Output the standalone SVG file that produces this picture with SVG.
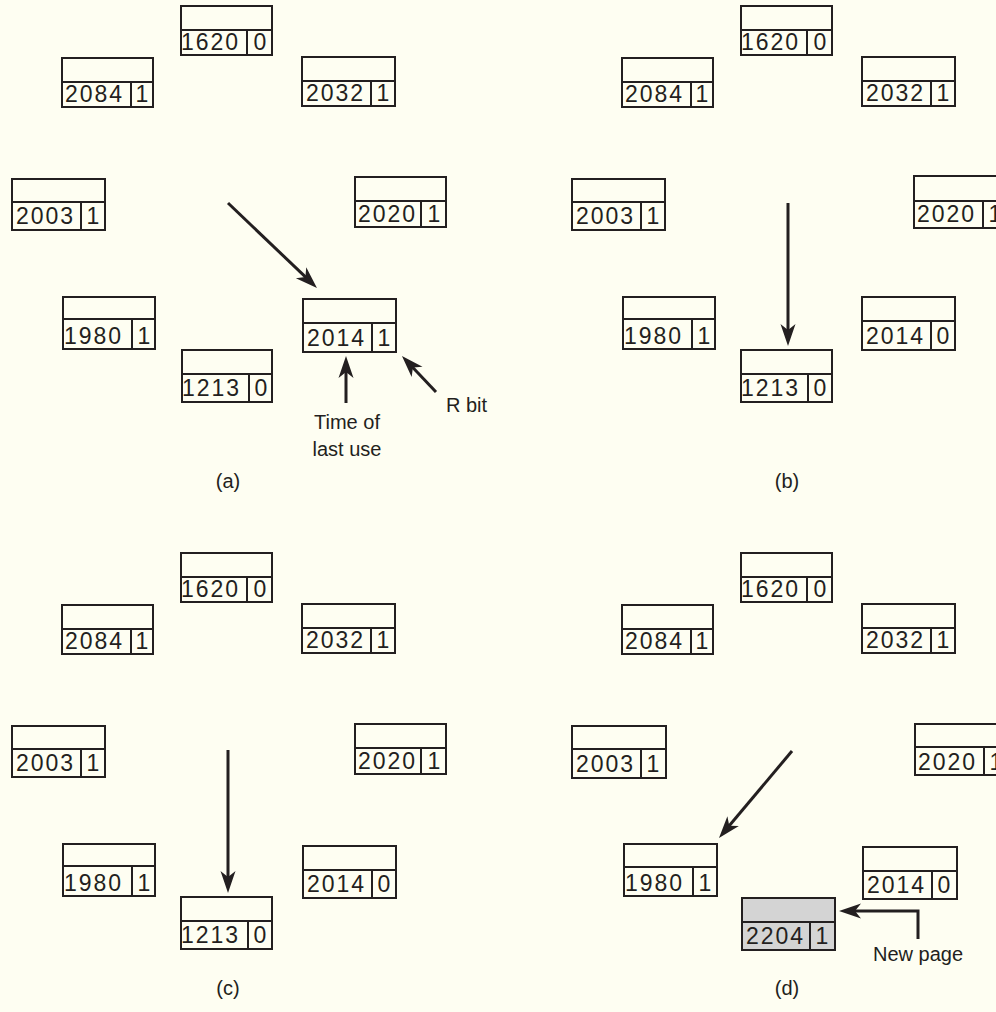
<svg xmlns="http://www.w3.org/2000/svg" width="996" height="1012" viewBox="0 0 996 1012">
<style>
.bg{fill:#fefef2}
.box{fill:#fefef2;stroke:#231f20;stroke-width:2}
.gray{fill:#d4d4d4}
.sep{stroke:#231f20;stroke-width:2}
.num{font-family:"Liberation Sans",Arial,sans-serif;font-size:23px;fill:#231f20;letter-spacing:2px}
.bit{font-family:"Liberation Sans",Arial,sans-serif;font-size:23px;fill:#231f20;text-anchor:middle}
.lbl{font-family:"Liberation Sans",Arial,sans-serif;font-size:20px;fill:#231f20}
.mid{text-anchor:middle}
.conn{stroke:#231f20;stroke-width:3;fill:none;marker-end:url(#ah)}
</style>
<defs>
<marker id="ah" markerUnits="userSpaceOnUse" viewBox="-12 -10 26 20" markerWidth="26" markerHeight="20" refX="0" refY="0" orient="auto">
<path d="M12,0 L-10,-7.5 L-4,0 L-10,7.5 Z" fill="#231f20"/>
</marker>
</defs>
<rect class="bg" x="0" y="0" width="996" height="1012"/>

<!-- Panel (a) -->
<g id="a-1620"><rect class="box" x="181" y="6" width="91" height="49"/><line class="sep" x1="181" y1="30" x2="272" y2="30"/><line class="sep" x1="247" y1="30" x2="247" y2="55"/><text class="num" x="181" y="50">1620</text><text class="bit" x="260" y="50">0</text></g>
<g id="a-2084"><rect class="box" x="62" y="58" width="91" height="49"/><line class="sep" x1="62" y1="82" x2="153" y2="82"/><line class="sep" x1="131" y1="82" x2="131" y2="107"/><text class="num" x="65" y="102">2084</text><text class="bit" x="142" y="102">1</text></g>
<g id="a-2032"><rect class="box" x="302" y="57" width="93" height="49"/><line class="sep" x1="302" y1="81" x2="395" y2="81"/><line class="sep" x1="371" y1="81" x2="371" y2="106"/><text class="num" x="306" y="101">2032</text><text class="bit" x="383" y="101">1</text></g>
<g id="a-2003"><rect class="box" x="12" y="179" width="93" height="51"/><line class="sep" x1="12" y1="202" x2="105" y2="202"/><line class="sep" x1="81" y1="202" x2="81" y2="230"/><text class="num" x="16" y="224">2003</text><text class="bit" x="93" y="224">1</text></g>
<g id="a-2020"><rect class="box" x="355" y="177" width="91" height="50"/><line class="sep" x1="355" y1="201" x2="446" y2="201"/><line class="sep" x1="421" y1="201" x2="421" y2="227"/><text class="num" x="358" y="222">2020</text><text class="bit" x="434" y="222">1</text></g>
<g id="a-1980"><rect class="box" x="63" y="297" width="92" height="52"/><line class="sep" x1="63" y1="319" x2="155" y2="319"/><line class="sep" x1="132" y1="319" x2="132" y2="349"/><text class="num" x="64" y="344">1980</text><text class="bit" x="144" y="344">1</text></g>
<g id="a-2014"><rect class="box" x="303" y="299" width="93" height="53"/><line class="sep" x1="303" y1="323" x2="396" y2="323"/><line class="sep" x1="372" y1="323" x2="372" y2="352"/><text class="num" x="307" y="346">2014</text><text class="bit" x="384" y="346">1</text></g>
<g id="a-1213"><rect class="box" x="182" y="350" width="90" height="52"/><line class="sep" x1="182" y1="374" x2="272" y2="374"/><line class="sep" x1="249" y1="374" x2="249" y2="402"/><text class="num" x="182" y="396">1213</text><text class="bit" x="261" y="396">0</text></g>

<!-- Panel (b) -->
<g id="b-1620"><rect class="box" x="741" y="6" width="91" height="49"/><line class="sep" x1="741" y1="30" x2="832" y2="30"/><line class="sep" x1="807" y1="30" x2="807" y2="55"/><text class="num" x="741" y="50">1620</text><text class="bit" x="820" y="50">0</text></g>
<g id="b-2084"><rect class="box" x="622" y="58" width="91" height="49"/><line class="sep" x1="622" y1="82" x2="713" y2="82"/><line class="sep" x1="691" y1="82" x2="691" y2="107"/><text class="num" x="625" y="102">2084</text><text class="bit" x="702" y="102">1</text></g>
<g id="b-2032"><rect class="box" x="862" y="57" width="93" height="49"/><line class="sep" x1="862" y1="81" x2="955" y2="81"/><line class="sep" x1="931" y1="81" x2="931" y2="106"/><text class="num" x="866" y="101">2032</text><text class="bit" x="943" y="101">1</text></g>
<g id="b-2003"><rect class="box" x="572" y="179" width="93" height="51"/><line class="sep" x1="572" y1="202" x2="665" y2="202"/><line class="sep" x1="641" y1="202" x2="641" y2="230"/><text class="num" x="576" y="224">2003</text><text class="bit" x="653" y="224">1</text></g>
<g id="b-2020"><rect class="box" x="914" y="176" width="92" height="52"/><line class="sep" x1="914" y1="201" x2="1006" y2="201"/><line class="sep" x1="983" y1="201" x2="983" y2="228"/><text class="num" x="917" y="222">2020</text><text class="bit" x="995" y="222">1</text></g>
<g id="b-1980"><rect class="box" x="623" y="297" width="92" height="52"/><line class="sep" x1="623" y1="319" x2="715" y2="319"/><line class="sep" x1="692" y1="319" x2="692" y2="349"/><text class="num" x="624" y="344">1980</text><text class="bit" x="704" y="344">1</text></g>
<g id="b-2014"><rect class="box" x="862" y="297" width="93" height="53"/><line class="sep" x1="862" y1="321" x2="955" y2="321"/><line class="sep" x1="931" y1="321" x2="931" y2="350"/><text class="num" x="866" y="344">2014</text><text class="bit" x="943" y="344">0</text></g>
<g id="b-1213"><rect class="box" x="741" y="350" width="91" height="52"/><line class="sep" x1="741" y1="374" x2="832" y2="374"/><line class="sep" x1="808" y1="374" x2="808" y2="402"/><text class="num" x="741" y="396">1213</text><text class="bit" x="820" y="396">0</text></g>

<!-- Panel (c) -->
<g id="c-1620"><rect class="box" x="181" y="553" width="91" height="49"/><line class="sep" x1="181" y1="577" x2="272" y2="577"/><line class="sep" x1="247" y1="577" x2="247" y2="602"/><text class="num" x="181" y="597">1620</text><text class="bit" x="260" y="597">0</text></g>
<g id="c-2084"><rect class="box" x="62" y="605" width="91" height="49"/><line class="sep" x1="62" y1="629" x2="153" y2="629"/><line class="sep" x1="131" y1="629" x2="131" y2="654"/><text class="num" x="65" y="649">2084</text><text class="bit" x="142" y="649">1</text></g>
<g id="c-2032"><rect class="box" x="302" y="604" width="93" height="49"/><line class="sep" x1="302" y1="628" x2="395" y2="628"/><line class="sep" x1="371" y1="628" x2="371" y2="653"/><text class="num" x="306" y="648">2032</text><text class="bit" x="383" y="648">1</text></g>
<g id="c-2003"><rect class="box" x="12" y="726" width="93" height="51"/><line class="sep" x1="12" y1="749" x2="105" y2="749"/><line class="sep" x1="81" y1="749" x2="81" y2="777"/><text class="num" x="16" y="771">2003</text><text class="bit" x="93" y="771">1</text></g>
<g id="c-2020"><rect class="box" x="355" y="724" width="91" height="50"/><line class="sep" x1="355" y1="748" x2="446" y2="748"/><line class="sep" x1="421" y1="748" x2="421" y2="774"/><text class="num" x="358" y="769">2020</text><text class="bit" x="434" y="769">1</text></g>
<g id="c-1980"><rect class="box" x="63" y="844" width="92" height="52"/><line class="sep" x1="63" y1="866" x2="155" y2="866"/><line class="sep" x1="132" y1="866" x2="132" y2="896"/><text class="num" x="64" y="891">1980</text><text class="bit" x="144" y="891">1</text></g>
<g id="c-2014"><rect class="box" x="303" y="846" width="93" height="52"/><line class="sep" x1="303" y1="870" x2="396" y2="870"/><line class="sep" x1="372" y1="870" x2="372" y2="898"/><text class="num" x="307" y="892">2014</text><text class="bit" x="384" y="892">0</text></g>
<g id="c-1213"><rect class="box" x="181" y="897" width="91" height="52"/><line class="sep" x1="181" y1="921" x2="272" y2="921"/><line class="sep" x1="248" y1="921" x2="248" y2="949"/><text class="num" x="181" y="943">1213</text><text class="bit" x="260" y="943">0</text></g>

<!-- Panel (d) -->
<g id="d-1620"><rect class="box" x="741" y="553" width="91" height="49"/><line class="sep" x1="741" y1="577" x2="832" y2="577"/><line class="sep" x1="807" y1="577" x2="807" y2="602"/><text class="num" x="741" y="597">1620</text><text class="bit" x="820" y="597">0</text></g>
<g id="d-2084"><rect class="box" x="622" y="605" width="91" height="49"/><line class="sep" x1="622" y1="629" x2="713" y2="629"/><line class="sep" x1="691" y1="629" x2="691" y2="654"/><text class="num" x="625" y="649">2084</text><text class="bit" x="702" y="649">1</text></g>
<g id="d-2032"><rect class="box" x="862" y="604" width="93" height="49"/><line class="sep" x1="862" y1="628" x2="955" y2="628"/><line class="sep" x1="931" y1="628" x2="931" y2="653"/><text class="num" x="866" y="648">2032</text><text class="bit" x="943" y="648">1</text></g>
<g id="d-2003"><rect class="box" x="572" y="726" width="94" height="52"/><line class="sep" x1="572" y1="749" x2="666" y2="749"/><line class="sep" x1="641" y1="749" x2="641" y2="778"/><text class="num" x="576" y="772">2003</text><text class="bit" x="653" y="772">1</text></g>
<g id="d-2020"><rect class="box" x="915" y="724" width="92" height="51"/><line class="sep" x1="915" y1="747" x2="1007" y2="747"/><line class="sep" x1="984" y1="747" x2="984" y2="775"/><text class="num" x="918" y="770">2020</text><text class="bit" x="996" y="770">1</text></g>
<g id="d-1980"><rect class="box" x="624" y="844" width="93" height="52"/><line class="sep" x1="624" y1="867" x2="717" y2="867"/><line class="sep" x1="693" y1="867" x2="693" y2="896"/><text class="num" x="625" y="891">1980</text><text class="bit" x="705" y="891">1</text></g>
<g id="d-2014"><rect class="box" x="863" y="847" width="94" height="52"/><line class="sep" x1="863" y1="871" x2="957" y2="871"/><line class="sep" x1="932" y1="871" x2="932" y2="899"/><text class="num" x="867" y="893">2014</text><text class="bit" x="944" y="893">0</text></g>
<g id="d-2204"><rect class="box gray" x="742" y="898" width="93" height="52"/><line class="sep" x1="742" y1="922" x2="835" y2="922"/><line class="sep" x1="810" y1="922" x2="810" y2="950"/><text class="num" x="746" y="944">2204</text><text class="bit" x="822" y="944">1</text></g>

<!-- Connectors -->
<g id="connectors">
<line class="conn" x1="228" y1="203" x2="308.3" y2="279.7"/>
<line class="conn" x1="346" y1="403" x2="346" y2="368"/>
<line class="conn" x1="436" y1="392" x2="410.2" y2="364.7"/>
<line class="conn" x1="788" y1="203" x2="788" y2="334"/>
<line class="conn" x1="228" y1="750" x2="228" y2="881"/>
<line class="conn" x1="792" y1="751" x2="726.7" y2="828.8"/>
<polyline class="conn" points="918,939 918,911 851,911"/>
</g>

<!-- Labels -->
<g id="labels">
<text class="lbl mid" x="347" y="429">Time of</text>
<text class="lbl mid" x="347" y="456">last use</text>
<text class="lbl" x="446" y="412">R bit</text>
<text class="lbl mid" x="918" y="961">New page</text>
<text class="lbl mid" x="228" y="488">(a)</text>
<text class="lbl mid" x="787" y="488">(b)</text>
<text class="lbl mid" x="228" y="995">(c)</text>
<text class="lbl mid" x="787" y="995">(d)</text>
</g>
</svg>
